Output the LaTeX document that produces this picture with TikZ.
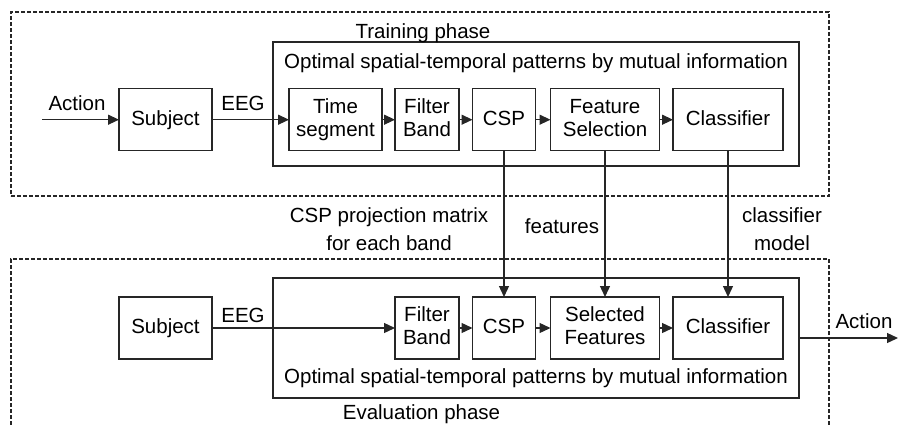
\documentclass[tikz,border=0pt]{standalone}
\usepackage{fontspec}
\setmainfont{Liberation Sans}
\usetikzlibrary{arrows.meta}
\begin{document}
\begin{tikzpicture}[x=1pt,y=-1pt,
  every node/.style={font=\fontsize{20.5}{23}\selectfont, inner sep=0pt, outer sep=0pt},
  blk/.style={draw=black!85, line width=1.3pt, minimum height=62pt, align=center, text height=14.7pt, text depth=4pt},
  blk2/.style={blk, text height=37.7pt},
  frame/.style={draw=black!85, line width=1.3pt},
  dframe/.style={draw=black!85, line width=1.3pt, dash pattern=on 4pt off 2pt},
  arr/.style={draw=black!85, -{Triangle[length=11pt,width=10pt]}, line width=1.3pt},
  lbl/.style={anchor=base}
]
\useasboundingbox (0,0) rectangle (899,424);
\clip (0,0) rectangle (899,424);

% dashed phase frames
\node[dframe, minimum width=818pt, minimum height=184pt] (trainF) at (420,104) {};
\node[dframe, minimum width=818pt, minimum height=200pt] (evalF) at (420,359) {};

% inner solid frames
\node[frame, minimum width=526pt, minimum height=124pt] (inT) at (536,104) {};
\node[frame, minimum width=526pt, minimum height=120pt] (inB) at (536,338) {};

% texts of frames
\node[lbl] (trnTxt) at (423,38) {Training phase};
\node[lbl] (optT) at (536,68) {Optimal spatial-temporal patterns by mutual information};
\node[lbl] (optB) at (536,383.5) {Optimal spatial-temporal patterns by mutual information};
\node[lbl] (evlTxt) at (421.5,419.5) {Evaluation phase};

% top row
\node[blk, minimum width=93pt] (subT) at (165.5,119.7) {Subject};
\node[blk2, minimum width=93pt] (tsT) at (335.5,119.7) {Time\\segment};
\node[blk2, minimum width=64pt] (fbT) at (427,119.7) {Filter\\Band};
\node[blk, minimum width=63pt] (cspT) at (504,119.7) {CSP};
\node[blk2, minimum width=109pt] (fsT) at (605,119.7) {Feature\\Selection};
\node[blk, minimum width=110pt] (clT) at (728,119.7) {Classifier};

% bottom row
\node[blk, minimum width=93pt] (subB) at (165.5,328) {Subject};
\node[blk2, minimum width=64pt] (fbB) at (427,328) {Filter\\Band};
\node[blk, minimum width=63pt] (cspB) at (504,328) {CSP};
\node[blk2, minimum width=109pt] (sfB) at (605,328) {Selected\\Features};
\node[blk, minimum width=110pt] (clB) at (728,328) {Classifier};

% free ends
\coordinate (actIn) at (42,119.7);
\coordinate (actOut) at (898,338);

% top connectors
\draw[arr] (actIn) -- (subT);
\draw[arr] (subT) -- (tsT);
\draw[arr] (tsT) -- (fbT);
\draw[arr] (fbT) -- (cspT);
\draw[arr] (cspT) -- (fsT);
\draw[arr] (fsT) -- (clT);

% vertical connectors
\draw[arr] (cspT) -- (cspB);
\draw[arr] (fsT) -- (sfB);
\draw[arr] (clT) -- (clB);

% bottom connectors
\draw[arr] (subB) -- (fbB);
\draw[arr] (fbB) -- (cspB);
\draw[arr] (cspB) -- (sfB);
\draw[arr] (sfB) -- (clB);
\draw[arr] (inB.east) -- (actOut);

% labels
\node[lbl] (lAct1) at (77,110) {Action};
\node[lbl] (lEeg1) at (243,110.7) {EEG};
\node[lbl] (lEeg2) at (243,322) {EEG};
\node[lbl] (lAct2) at (864,328.5) {Action};
\node[lbl] (lCsp1) at (389,222.7) {CSP projection matrix};
\node[lbl] (lCsp2) at (389,250) {for each band};
\node[lbl] (lFeat) at (562,233) {features};
\node[lbl] (lCl1) at (782,222.5) {classifier};
\node[lbl] (lCl2) at (782,250) {model};
\end{tikzpicture}
\end{document}
